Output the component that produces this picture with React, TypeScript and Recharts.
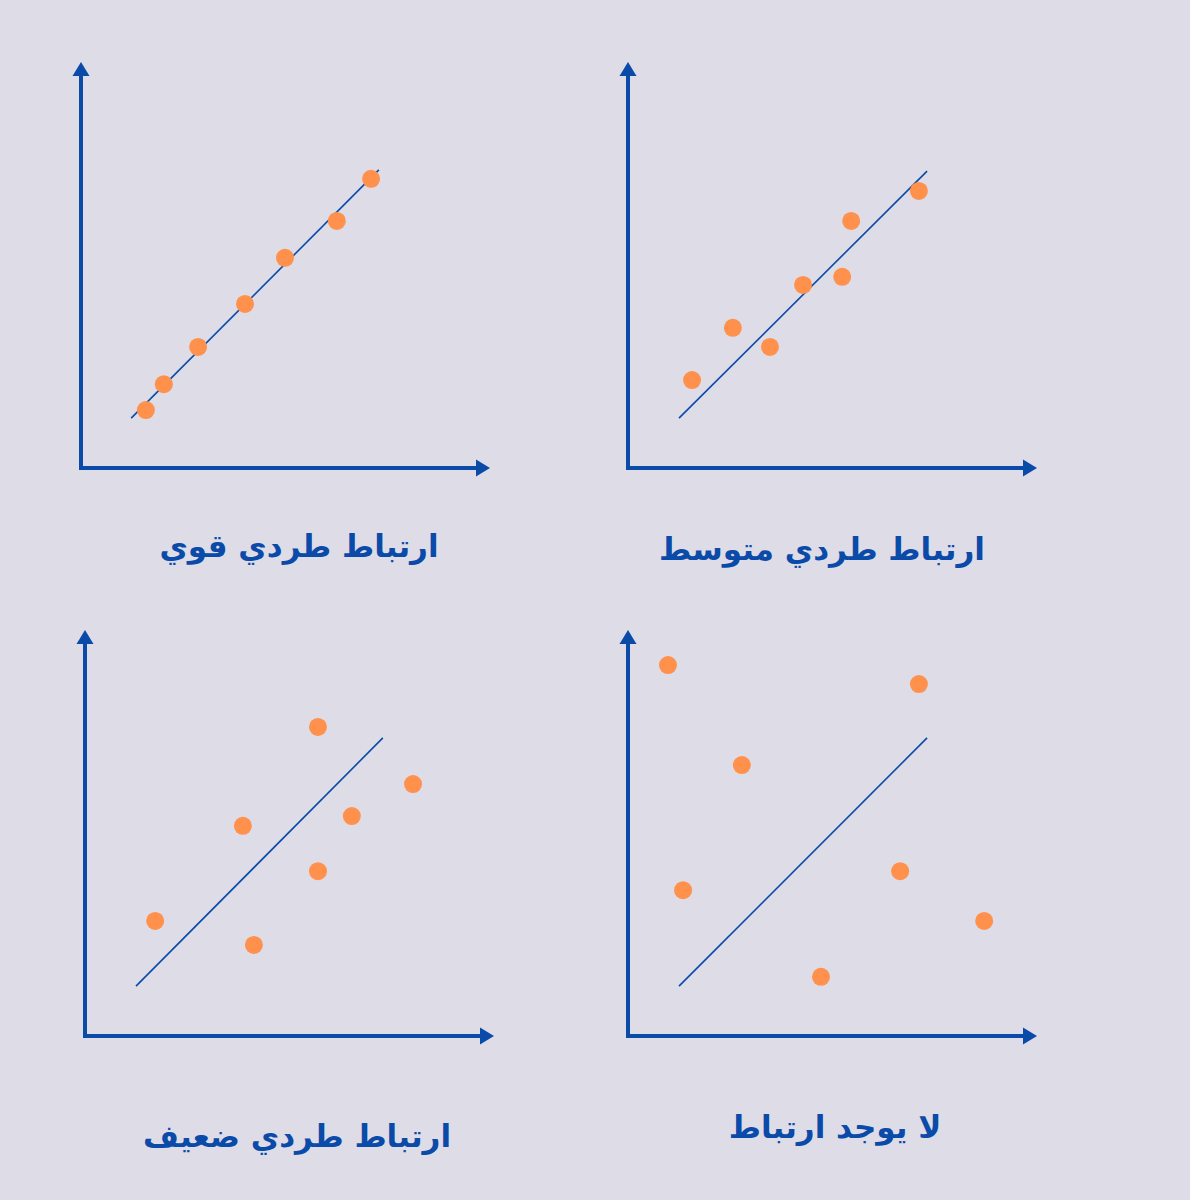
import { ScatterChart, Scatter, XAxis, YAxis, ReferenceLine, ReferenceDot } from 'recharts'

const BG = '#dedce6'
const BLUE = '#0a4aa9'
const ORANGE = '#ff914d'

// points, axes run 0..100
const strongPoints = [
  { x: 15.9, y: 14.3 },
  { x: 20.3, y: 20.7 },
  { x: 28.7, y: 29.9 },
  { x: 40.2, y: 40.5 },
  { x: 50.0, y: 51.9 },
  { x: 62.7, y: 61.0 },
  { x: 71.1, y: 71.4 },
]

const mediumPoints = [
  { x: 15.7, y: 21.7 },
  { x: 25.7, y: 34.6 },
  { x: 34.8, y: 29.9 },
  { x: 42.9, y: 45.2 },
  { x: 52.5, y: 47.2 },
  { x: 54.7, y: 61.0 },
  { x: 71.3, y: 68.4 },
]

const weakPoints = [
  { x: 17.2, y: 28.4 },
  { x: 38.7, y: 51.9 },
  { x: 41.4, y: 22.5 },
  { x: 57.1, y: 76.3 },
  { x: 57.1, y: 40.7 },
  { x: 65.4, y: 54.3 },
  { x: 80.4, y: 62.2 },
]

const nonePoints = [
  { x: 9.8, y: 91.6 },
  { x: 27.9, y: 66.9 },
  { x: 13.5, y: 36.0 },
  { x: 71.3, y: 86.9 },
  { x: 66.7, y: 40.7 },
  { x: 87.3, y: 28.4 },
  { x: 47.3, y: 14.6 },
]

// trend line ends for each panel
const strongTrend = [{ x: 12.3, y: 12.3 }, { x: 73.0, y: 73.6 }]
const mediumTrend = [{ x: 12.5, y: 12.3 }, { x: 73.3, y: 73.3 }]
const weakTrend = [{ x: 12.5, y: 12.3 }, { x: 73.0, y: 73.6 }]
const noneTrend = [{ x: 12.5, y: 12.3 }, { x: 73.3, y: 73.6 }]

const titles = ['ارتباط طردي قوي', 'ارتباط طردي متوسط', 'ارتباط طردي ضعيف', 'لا يوجد ارتباط']

const PLOT_W = 408
const PLOT_H = 405
const M = 20

interface ArrowProps {
  cx?: number
  cy?: number
}

function ArrowRight({ cx = 0, cy = 0 }: ArrowProps) {
  return <polygon points={`${cx + 1},${cy} ${cx - 13},${cy - 8.5} ${cx - 13},${cy + 8.5}`} fill={BLUE} />
}

function ArrowUp({ cx = 0, cy = 0 }: ArrowProps) {
  return <polygon points={`${cx},${cy - 1} ${cx - 8.5},${cy + 13} ${cx + 8.5},${cy + 13}`} fill={BLUE} />
}

interface PanelProps {
  left: number
  top: number
  points: { x: number; y: number }[]
  trend: { x: number; y: number }[]
}

function Panel({ left, top, points, trend }: PanelProps) {
  return (
    <div style={{ position: 'absolute', left, top }}>
      <ScatterChart
        width={PLOT_W + 2 * M}
        height={PLOT_H + 2 * M}
        margin={{ top: M, right: M, bottom: M, left: M }}
      >
        <XAxis type="number" dataKey="x" domain={[0, 100]} hide />
        <YAxis type="number" dataKey="y" domain={[0, 100]} hide />
        <ReferenceLine
          segment={[{ x: 0, y: 0 }, { x: 97, y: 0 }]}
          stroke={BLUE}
          strokeWidth={4}
          strokeLinecap="square"
        />
        <ReferenceLine
          segment={[{ x: 0, y: 0 }, { x: 0, y: 97 }]}
          stroke={BLUE}
          strokeWidth={4}
          strokeLinecap="square"
        />
        <ReferenceDot x={100} y={0} r={0} shape={<ArrowRight />} />
        <ReferenceDot x={0} y={100} r={0} shape={<ArrowUp />} />
        <ReferenceLine segment={trend} stroke={BLUE} strokeWidth={1.6} />
        <Scatter
          data={points}
          fill={ORANGE}
          isAnimationActive={false}
          shape={(p: any) => <circle cx={p.cx} cy={p.cy} r={9} fill={ORANGE} />}
        />
      </ScatterChart>
    </div>
  )
}

const titleStyle: React.CSSProperties = {
  position: 'absolute',
  direction: 'rtl',
  fontFamily: '"DejaVu Sans", sans-serif',
  fontWeight: 'bold',
  fontSize: 31,
  color: BLUE,
  whiteSpace: 'nowrap',
  transform: 'translate(-50%, -50%)',
}

export default function App() {
  return (
    <div style={{ position: 'absolute', left: 0, top: 0, width: 1190, height: 1200, background: BG, overflow: 'hidden' }}>
      <Panel left={81 - M} top={63 - M} points={strongPoints} trend={strongTrend} />
      <Panel left={628 - M} top={63 - M} points={mediumPoints} trend={mediumTrend} />
      <Panel left={85 - M} top={631 - M} points={weakPoints} trend={weakTrend} />
      <Panel left={628 - M} top={631 - M} points={nonePoints} trend={noneTrend} />
      <div style={{ ...titleStyle, left: 299, top: 546 }}>{titles[0]}</div>
      <div style={{ ...titleStyle, left: 822, top: 549 }}>{titles[1]}</div>
      <div style={{ ...titleStyle, left: 297, top: 1136 }}>{titles[2]}</div>
      <div style={{ ...titleStyle, left: 835, top: 1127 }}>{titles[3]}</div>
    </div>
  )
}
